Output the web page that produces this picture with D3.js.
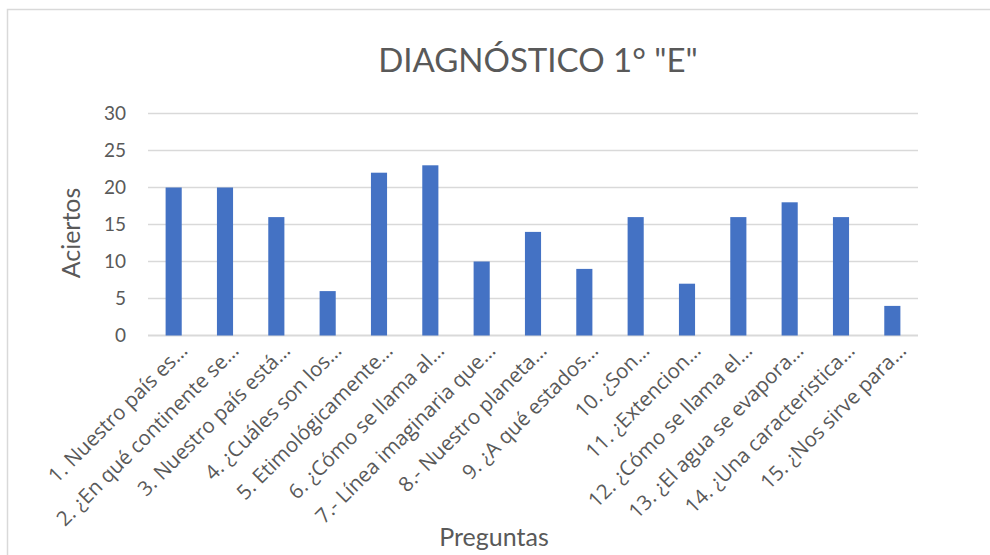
<!DOCTYPE html>
<html><head><meta charset="utf-8">
<script src="https://cdn.jsdelivr.net/npm/d3@7"></script>
<style>body{margin:0;background:#fff}svg{display:block}text{font-family:Lato,"Open Sans",sans-serif;fill:#595959}</style>
</head><body><svg id="c" width="990" height="555"></svg>
<script>
const categories = ["1. Nuestro país es…","2. ¿En qué continente se…","3. Nuestro país está…","4. ¿Cuáles son los…","5. Etimológicamente…","6. ¿Cómo se llama al…","7.- Línea imaginaria que…","8.- Nuestro planeta…","9. ¿A qué estados…","10. ¿Son…","11. ¿Extencion…","12. ¿Cómo se llama el…","13. ¿El agua se evapora…","14. ¿Una caracteristica…","15. ¿Nos sirve para…"];
const aciertos = [20,20,16,6,22,23,10,14,9,16,7,16,18,16,4];
const yTicks = [0,5,10,15,20,25,30];
const title = 'DIAGNÓSTICO 1° "E"';

const svg = d3.select("#c");
svg.append("rect").attr("x",7.5).attr("y",9.5).attr("width",1000).attr("height",600)
  .attr("fill","none").attr("stroke","#d9d9d9").attr("stroke-width",1.5);

const L=148, R=918, T=113.5, B=335.5;
const x = d3.scaleBand().domain(categories).range([L,R]).paddingInner(0.686).paddingOuter(0.343);
const y = d3.scaleLinear().domain([0,30]).range([B,T]);

svg.append("g").selectAll("line").data(yTicks).join("line")
  .attr("x1",L).attr("x2",R).attr("y1",d=>y(d)).attr("y2",d=>y(d))
  .attr("stroke","#d9d9d9").attr("stroke-width",d=>d===0?2:1.3);

svg.append("g").selectAll("rect").data(aciertos).join("rect")
  .attr("x",(d,i)=>x(categories[i])).attr("width",x.bandwidth())
  .attr("y",d=>y(d)).attr("height",d=>B-y(d)).attr("fill","#4472C4");

svg.append("g").selectAll("text").data(yTicks).join("text")
  .attr("x",126).attr("y",d=>y(d)).attr("dy","0.35em").attr("text-anchor","end")
  .attr("font-size",19).text(d=>d);

svg.append("g").selectAll("text").data(categories).join("text")
  .attr("transform",d=>`translate(${x(d)+x.bandwidth()/2+10},${347}) rotate(-45)`)
  .attr("text-anchor","end").attr("dy","0.35em").style("font-family","'Open Sans',sans-serif").attr("font-size",20.5).text(d=>d);

svg.append("text").attr("x",538).attr("y",72).attr("text-anchor","middle").attr("font-size",33).text(title);
svg.append("text").attr("transform","translate(80,233) rotate(-90)").attr("text-anchor","middle").attr("font-size",25).text("Aciertos");
svg.append("text").attr("x",494).attr("y",546).attr("text-anchor","middle").attr("font-size",25).text("Preguntas");
</script></body></html>
